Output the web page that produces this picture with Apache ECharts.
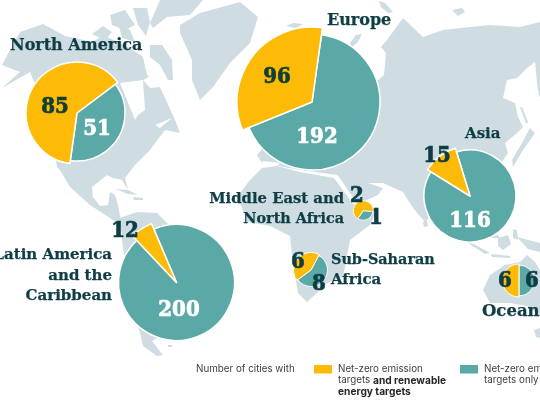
<!DOCTYPE html>
<html><head><meta charset="utf-8">
<style>html,body{margin:0;padding:0;background:#fff;overflow:hidden}#c{width:540px;height:405px}</style>
<script src="https://cdn.jsdelivr.net/npm/echarts@6/dist/echarts.min.js"></script>
</head><body><div id="c"></div>
<script>
// ---- data ----
const regions = ['North America','Europe','Asia','Latin America and the Caribbean','Middle East and North Africa','Sub-Saharan Africa','Oceania'];
const netZeroAndRenewable = [85,96,15,12,2,6,6];
const netZeroOnly = [51,192,116,200,1,8,6];

// ---- layout ----
const YEL='#FDBB08', TEAL='#5AA9A7', INK='#0F3D45', LAND='#CFDDE3';
const pieLayout = [
 {c:[77,113],ry:51,rt:48,start:37,bw:1.5, ly:[55,107],lt:[97,129],ytxt:'#123F33',ttxt:'#fff'},
 {c:[312,102],ry:75,rt:68,start:82,bw:1.5, ly:[277,77],lt:[317,137],ytxt:'#123F33',ttxt:'#fff'},
 {c:[470,196],ry:50,rt:46,start:107,bw:1.5, ly:[437,156],lt:[470,221],ytxt:INK,ttxt:'#fff'},
 {c:[176.5,282.5],ry:64,rt:58,start:113,bw:1.5, ly:[125,231],lt:[179,310],ytxt:INK,ttxt:'#fff'},
 {c:[363.3,210.7],ry:10,rt:9.5,start:-5,bw:0.8, ly:[357,196],lt:[376,218],ytxt:INK,ttxt:INK},
 {c:[311,270],ry:17.5,rt:16.5,start:62,bw:1, ly:[298,262],lt:[319,284],ytxt:INK,ttxt:INK},
 {c:[519,280.5],ry:16.5,rt:15.5,start:90,bw:1, ly:[505,281],lt:[532,281],ytxt:INK,ttxt:INK}
];
const NUMFONT='"DejaVu Serif Condensed","DejaVu Serif",serif';
const SLAB='"DejaVu Serif",serif';
const SANS='Inter,Roboto,sans-serif';

// background map (decoration, in pixels)
const land = [
 // North America
 [[2,65],[10,50],[20,32],[43,24],[65,36],[93,42],[103,35],[118,42],[130,48],[143,57],[147,75],[160,87],[166,100],[175,120],[180,133],[165,130],[150,150],[135,165],[125,178],[128,190],[122,180],[113,178],[107,175],[92,187],[93,197],[100,206],[108,205],[110,192],[115,195],[118,205],[120,216],[123,228],[110,218],[90,205],[70,187],[60,170],[57,167],[50,120],[30,72],[2,88],[20,72]],
 // South America
 [[120,218],[137,212],[157,213],[172,228],[215,262],[205,300],[170,330],[152,341],[163,355],[157,356],[143,346],[140,333],[130,300],[122,240]],
 [[168,345],[172,345],[172,347],[168,347]],
 // Arctic islands
 [[110,15],[125,10],[135,25],[125,30],[112,25]],
 [[160,0],[203,0],[190,15],[167,17],[153,28],[150,23]],
 [[133,8],[147,8],[150,22],[146,36],[138,25]],
 [[150,45],[162,45],[172,60],[173,80],[168,80],[160,65],[150,57]],
 [[92,34],[103,26],[112,32],[105,40]],
 [[118,22],[130,30],[135,42],[122,38]],
 // Greenland
 [[180,25],[200,13],[240,2],[258,17],[250,43],[230,63],[213,87],[200,100],[192,80],[192,60],[180,33]],
 // Caribbean
 [[115,189],[128,190],[138,195],[128,194]],
 [[133,197],[143,198],[143,200],[134,200]],
 // Eurasia
 [[387,40],[381,47],[386,53],[384,75],[378,80],[340,100],[270,140],[257,155],[262,163],[300,170],[337,175],[340,178],[357,204],[360,203],[378,195],[383,188],[368,183],[383,183],[403,192],[413,208],[425,222],[432,215],[440,190],[470,190],[500,165],[508,153],[505,143],[517,133],[523,127],[518,117],[515,103],[503,98],[507,80],[517,78],[527,68],[535,62],[537,83],[539,95],[540,97],[540,22],[520,27],[490,25],[470,27],[443,30],[423,37],[403,18]],
 // Japan and Sakhalin
 [[530,128],[535,133],[523,150],[513,167],[512,160],[522,143]],
 [[520,107],[522,107],[528,122],[526,124]],
 // Iceland, Novaya Zemlya, Severnaya, Scandinavia
 [[286,26],[293,23],[303,24],[296,28]],
 [[379,1],[385,3],[393,12],[388,13],[381,7]],
 [[452,10],[462,8],[465,12],[458,16]],
 [[350,43],[356,35],[362,34],[358,42],[352,47]],
 // Africa
 [[262,168],[277,166],[300,172],[334,178],[353,204],[378,208],[370,225],[350,240],[343,277],[327,283],[317,293],[307,302],[298,293],[292,256],[290,236],[270,226],[247,222],[240,203],[240,193],[250,180]],
 // Sri Lanka
 [[423,222],[427,220],[428,226],[424,227]],
 // South-East Asia, Indonesia, New Guinea
 [[470,222],[490,225],[495,232],[500,238],[490,238],[484,228]],
 [[468,243],[474,244],[490,253],[485,254]],
 [[498,238],[508,235],[511,244],[503,250],[498,246]],
 [[513,229],[517,230],[518,240],[513,238]],
 [[491,254],[510,256],[510,258],[492,257]],
 [[517,237],[540,243],[540,252],[528,249]],
 // Australia
 [[483,290],[490,275],[505,265],[520,262],[527,255],[535,262],[540,270],[540,316],[527,306],[510,303],[490,303]],
 [[534,330],[540,328],[540,338],[536,337]]
];
const sea = [
 [[120,83],[143,80],[145,110],[138,115],[135,120],[127,100]],  // Hudson Bay
 [[143,80],[158,72],[170,87],[160,87],[150,88]],               // Hudson Strait
 [[155,125],[172,118],[160,128]],                              // St Lawrence
 [[262,161],[280,163],[278,166],[264,165]]                     // Mediterranean
];

function txt(text,x,y,o){return {type:'text',z:3,style:Object.assign({text,x,y,fill:INK,font:'bold 15px '+SLAB,textAlign:'left',textVerticalAlign:'middle',stroke:INK,lineWidth:0.25},o||{})};}
const L = (t,x,y,a,sz)=>txt(t,x,y,{textAlign:a||'left',font:'bold '+(sz||15)+'px '+SLAB});
const S = (t,x,y,o)=>txt(t,x,y,Object.assign({font:'9.8px '+SANS,fill:'#3a3f42',stroke:null,lineWidth:0},o||{}));
const B = {font:'bold 10.2px '+SANS,fill:'#26292b'};

const graphics = [
 ...land.map(p=>({type:'polygon',z:0,silent:true,shape:{points:p},style:{fill:LAND}})),
 ...sea.map(p=>({type:'polygon',z:1,silent:true,shape:{points:p},style:{fill:'#fff'}})),
 L('North America',10,46,'left',16),L('Europe',327,21,'left',16),L('Asia',465,134),
 L('Middle East and',344,199,'right',14.8),L('North Africa',344,219,'right',14.4),
 L('Sub-Saharan',331,260,'left',14.4),L('Africa',331,280),
 L('Latin America',112,255,'right'),L('and the',112,276,'right'),L('Caribbean',112,296,'right'),
 L('Oceania',482,312,'left',16.5),
 S('Number of cities with',196,369),
 {type:'rect',z:3,shape:{x:314,y:365,width:18,height:8.5},style:{fill:YEL}},
 S('Net-zero emission',338,369),
 S('targets',338,380.5),
 S('and renewable',373,380.5,B),
 S('energy targets',338,391.5,B),
 {type:'rect',z:3,shape:{x:460,y:365,width:18,height:8.5},style:{fill:TEAL}},
 S('Net-zero emission',484,369),S('targets only',484,380.5)
];

function pie(i,which){
 const p=pieLayout[i], isY=which==='y';
 const hidden={color:'transparent',borderWidth:0};
 const lab=(col)=>({show:true,position:'inside',formatter:'{c}',color:col,fontFamily:NUMFONT,fontWeight:'bold',fontSize:22,textBorderColor:col,textBorderWidth:0.7});
 const off={show:false};
 return {
  type:'pie',silent:true,animation:false,z:isY?3:2,center:p.c,radius:[0,isY?p.ry:p.rt],startAngle:p.start,
  avoidLabelOverlap:false,labelLine:{show:false},
  itemStyle:{borderColor:'#fff',borderWidth:p.bw},
  labelLayout:()=>{const q=isY?p.ly:p.lt;return {x:q[0],y:q[1],align:'center',verticalAlign:'middle'};},
  data:[
   {name:regions[i]+' only',value:netZeroOnly[i],itemStyle:isY?hidden:{color:TEAL},label:isY?off:lab(p.ttxt)},
   {name:regions[i]+' and renewable',value:netZeroAndRenewable[i],itemStyle:isY?{color:YEL}:hidden,label:isY?lab(p.ytxt):off}
  ]
 };
}
const series=[];
regions.forEach((r,i)=>{series.push(pie(i,'t'));series.push(pie(i,'y'));});
const chart=echarts.init(document.getElementById('c'),null,{renderer:'canvas'});
chart.setOption({animation:false,backgroundColor:'#fff',graphic:graphics,series});
</script></body></html>
